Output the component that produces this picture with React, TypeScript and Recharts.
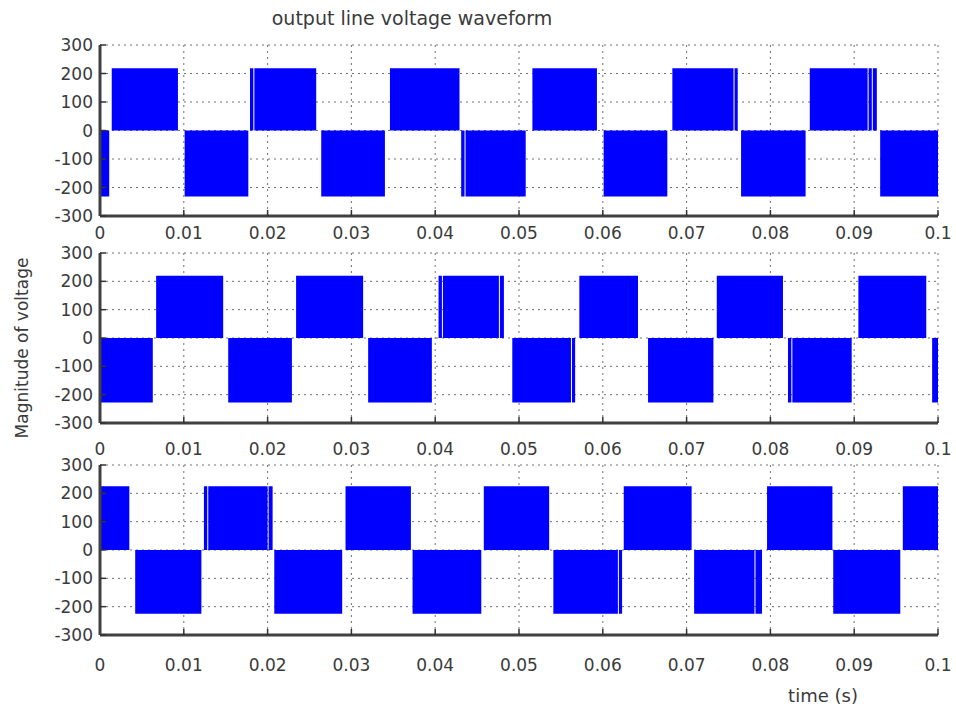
import { ComposedChart, Area, XAxis, YAxis, CartesianGrid } from 'recharts';

// [start (s), end (s), level (V)] — each PWM burst reads as a solid block
type Segment = [number, number, number];

const xTicks = [0, 0.01, 0.02, 0.03, 0.04, 0.05, 0.06, 0.07, 0.08, 0.09, 0.1];
const yTicks = [-300, -200, -100, 0, 100, 200, 300];

const vab: Segment[] = [
  [0, 0.0011, -232],
  [0.0014, 0.0093, 218],
  [0.0101, 0.0177, -232],
  [0.0179, 0.0183, 218],
  [0.01842, 0.0258, 218],
  [0.0264, 0.034, -232],
  [0.0346, 0.0429, 218],
  [0.0431, 0.0435, -232],
  [0.04362, 0.0508, -232],
  [0.0516, 0.0593, 218],
  [0.0601, 0.0677, -232],
  [0.0683, 0.0756, 218],
  [0.07572, 0.0761, 218],
  [0.0765, 0.0842, -232],
  [0.0847, 0.0916, 218],
  [0.09172, 0.0921, 218],
  [0.09222, 0.0927, 218],
  [0.0931, 0.1, -232],
];

const vbc: Segment[] = [
  [0, 0.0063, -228],
  [0.0067, 0.0147, 220],
  [0.0153, 0.0229, -228],
  [0.0234, 0.0314, 220],
  [0.032, 0.0396, -228],
  [0.0404, 0.0408, 220],
  [0.04092, 0.0476, 220],
  [0.04772, 0.0482, 220],
  [0.0492, 0.0562, -228],
  [0.05632, 0.0567, -228],
  [0.0572, 0.0642, 220],
  [0.0654, 0.0732, -228],
  [0.0736, 0.0815, 220],
  [0.0821, 0.0825, -228],
  [0.08262, 0.0897, -228],
  [0.0905, 0.0986, 220],
  [0.0993, 0.1, -228],
];

const vca: Segment[] = [
  [0, 0.0035, 225],
  [0.0042, 0.0121, -225],
  [0.0124, 0.0128, 225],
  [0.01292, 0.02, 225],
  [0.02012, 0.0206, 225],
  [0.0208, 0.0289, -225],
  [0.0293, 0.0371, 225],
  [0.0373, 0.0455, -225],
  [0.0458, 0.0536, 225],
  [0.0541, 0.0618, -225],
  [0.06192, 0.0623, -225],
  [0.0625, 0.0706, 225],
  [0.0709, 0.0781, -225],
  [0.07822, 0.079, -225],
  [0.0796, 0.0874, 225],
  [0.0875, 0.0955, -225],
  [0.0958, 0.1, 225],
];

const toSteps = (segments: Segment[]) => {
  const points: { t: number; v: number }[] = [];
  if (segments[0][0] > 0) points.push({ t: 0, v: 0 });
  segments.forEach(([start, end, level]) => {
    points.push({ t: start, v: level });
    points.push({ t: end, v: 0 });
  });
  return points;
};

const font = 'DejaVu Sans, Verdana, sans-serif';
const textColor = '#3a3a3a';
const frame = { stroke: '#404040', strokeWidth: 3 };
const tickLine = { stroke: '#333', strokeWidth: 1.5 };
const tickFont = { fontFamily: font, fontSize: 17, fill: textColor };

interface PanelProps {
  segments: Segment[];
  top: number;
  height: number;
  marginTop: number;
  axisHeight: number;
  labelGap: number;
}

const Panel = ({ segments, top, height, marginTop, axisHeight, labelGap }: PanelProps) => (
  <div style={{ position: 'absolute', left: 0, top }}>
    <ComposedChart
      width={956}
      height={height}
      data={toSteps(segments)}
      margin={{ top: marginTop, right: 18, bottom: 0, left: 0 }}
    >
      <CartesianGrid stroke="#707070" strokeDasharray="2 4" />
      <Area
        dataKey="v"
        type="stepAfter"
        fill="#0000ff"
        fillOpacity={1}
        stroke="none"
        isAnimationActive={false}
      />
      <XAxis
        dataKey="t"
        type="number"
        domain={[0, 0.1]}
        ticks={xTicks}
        interval={0}
        height={axisHeight}
        tickSize={-6}
        tickMargin={labelGap}
        axisLine={frame}
        tickLine={tickLine}
        tick={tickFont}
      />
      <XAxis
        xAxisId="top"
        orientation="top"
        dataKey="t"
        type="number"
        domain={[0, 0.1]}
        ticks={xTicks}
        interval={0}
        height={0}
        tickSize={-6}
        tick={false}
        axisLine={frame}
        tickLine={tickLine}
      />
      <YAxis
        type="number"
        domain={[-300, 300]}
        ticks={yTicks}
        interval={0}
        width={100}
        tickSize={-6}
        tickMargin={13}
        axisLine={frame}
        tickLine={tickLine}
        tick={tickFont}
      />
      <YAxis
        yAxisId="right"
        orientation="right"
        type="number"
        domain={[-300, 300]}
        ticks={yTicks}
        interval={0}
        width={0}
        tickSize={-6}
        tick={false}
        axisLine={frame}
        tickLine={tickLine}
      />
    </ComposedChart>
  </div>
);

export default function App() {
  return (
    <div
      style={{
        position: 'absolute',
        left: 0,
        top: 0,
        width: 956,
        height: 711,
        background: '#fff',
        overflow: 'hidden',
      }}
    >
      <Panel segments={vab} top={0} height={250} marginTop={45} axisHeight={34} labelGap={17} />
      <Panel segments={vbc} top={230} height={230} marginTop={23} axisHeight={37} labelGap={26} />
      <Panel segments={vca} top={440} height={271} marginTop={25} axisHeight={76} labelGap={30} />
      <svg
        width={956}
        height={711}
        style={{ position: 'absolute', left: 0, top: 0, pointerEvents: 'none' }}
      >
        <text
          x={412}
          y={18}
          textAnchor="middle"
          dominantBaseline="central"
          fontFamily={font}
          fontSize={19}
          fill={textColor}
        >
          output line voltage waveform
        </text>
        <text
          x={22}
          y={348}
          transform="rotate(-90 22 348)"
          textAnchor="middle"
          dominantBaseline="central"
          fontFamily={font}
          fontSize={17}
          fill={textColor}
        >
          Magnitude of voltage
        </text>
        <text
          x={823}
          y={695}
          textAnchor="middle"
          dominantBaseline="central"
          fontFamily={font}
          fontSize={18}
          fill={textColor}
        >
          time (s)
        </text>
      </svg>
    </div>
  );
}
